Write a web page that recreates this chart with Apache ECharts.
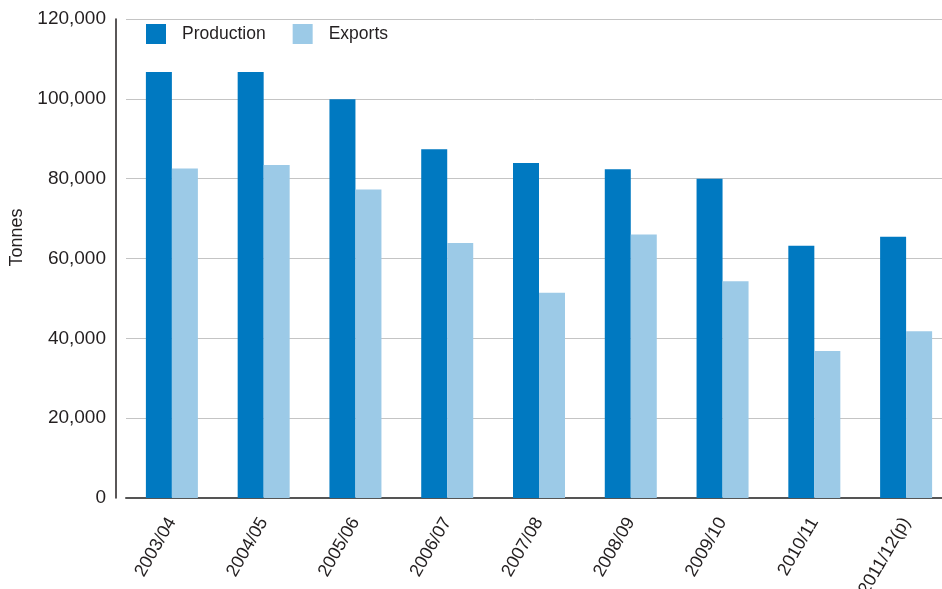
<!DOCTYPE html>
<html>
<head>
<meta charset="utf-8">
<script src="https://cdn.jsdelivr.net/npm/echarts@6/dist/echarts.min.js"></script>
<style>
html,body{margin:0;padding:0;background:#fff;}
#chart{width:942px;height:589px;}
</style>
</head>
<body>
<div id="chart"></div>
<script>
const categories = ['2003/04','2004/05','2005/06','2006/07','2007/08','2008/09','2009/10','2010/11','2011/12(p)'];
const production = [106750, 106750, 99900, 87400, 83900, 82350, 80000, 63200, 65450];
const exports = [82550, 83400, 77300, 63900, 51450, 66000, 54300, 36800, 41800];
const yTicks = [0, 20000, 40000, 60000, 80000, 100000, 120000];

const FONT = "'Liberation Sans Narrow', 'Liberation Sans', Arial, sans-serif";
const TXT = '#231f20';

const chart = echarts.init(document.getElementById('chart'));
chart.setOption({
  animation: false,
  textStyle: { fontFamily: FONT },
  grid: { left: 126, right: -10, top: 19, bottom: 91, containLabel: false, outerBoundsMode: 'none' },
  legend: {
    left: 141, top: 19,
    itemWidth: 20, itemHeight: 20, itemGap: 27,
    icon: 'rect',
    textStyle: { fontFamily: FONT, fontSize: 17.5, color: TXT, padding: [0, 0, 0, 11] },
    data: ['Production', 'Exports']
  },
  xAxis: {
    type: 'category',
    data: categories,
    axisLine: { lineStyle: { color: '#555', width: 2 } },
    axisTick: { show: false },
    axisLabel: { rotate: 60, fontFamily: FONT, fontSize: 18, color: TXT, margin: 21 }
  },
  yAxis: {
    type: 'value',
    min: yTicks[0], max: yTicks[yTicks.length - 1], interval: 20000,
    offset: 10,
    name: 'Tonnes',
    nameLocation: 'middle',
    nameGap: 88,
    nameTextStyle: { fontFamily: FONT, fontSize: 18, color: TXT, padding: [0, 0, 0, 42] },
    axisLine: { show: true, lineStyle: { color: '#231f20', width: 1.5 } },
    axisTick: { show: false },
    axisLabel: {
      fontFamily: FONT, fontSize: 19, color: TXT, margin: 10,
      formatter: v => v.toLocaleString('en-US')
    },
    splitLine: { lineStyle: { color: '#c4c4c4', width: 1 } }
  },
  series: [
    { name: 'Production', type: 'bar', data: production, barWidth: 26, barGap: '0%',
      itemStyle: { color: '#0079c1' } },
    { name: 'Exports', type: 'bar', data: exports, barWidth: 26, barGap: '0%',
      itemStyle: { color: '#9ccae7' } }
  ]
});
</script>
</body>
</html>
